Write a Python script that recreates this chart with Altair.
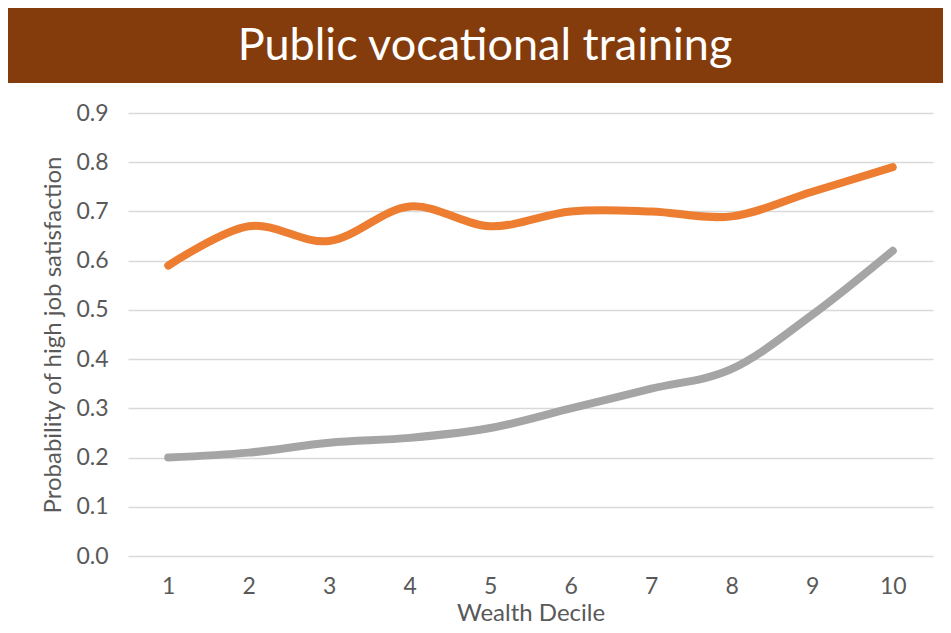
import altair as alt
import pandas as pd

deciles = [1, 2, 3, 4, 5, 6, 7, 8, 9, 10]
orange_values = [0.59, 0.67, 0.64, 0.71, 0.67, 0.70, 0.70, 0.69, 0.74, 0.79]
gray_values = [0.20, 0.21, 0.23, 0.24, 0.26, 0.30, 0.34, 0.38, 0.49, 0.62]
series_names = ["Series A", "Series B"]
y_ticks = [0.0, 0.1, 0.2, 0.3, 0.4, 0.5, 0.6, 0.7, 0.8, 0.9]
title_text = "Public vocational training"
x_title = "Wealth Decile"
y_title = "Probability of high job satisfaction"

rows = []
for d, v in zip(deciles, orange_values):
    rows.append({"decile": d, "value": v, "series": series_names[0]})
for d, v in zip(deciles, gray_values):
    rows.append({"decile": d, "value": v, "series": series_names[1]})
df = pd.DataFrame(rows)

FONT = "Lato"
TXT = "#595959"
W, H = 805, 443

lines = alt.Chart(df).mark_line(
    strokeWidth=8, strokeCap="round", strokeJoin="round", interpolate="cardinal"
).encode(
    x=alt.X("decile:O", scale=alt.Scale(type="point", padding=0.5),
            axis=alt.Axis(title=x_title, labelAngle=0, domain=False, ticks=False,
                          grid=False, labelPadding=19, titlePadding=3)),
    y=alt.Y("value:Q", scale=alt.Scale(domain=[0, 0.9], nice=False, zero=True),
            axis=alt.Axis(title=y_title, values=y_ticks, format=".1f", domain=False,
                          ticks=False, grid=True, labelPadding=20, titlePadding=10)),
    color=alt.Color("series:N", scale=alt.Scale(domain=series_names,
                                                range=["#ED7D31", "#A5A5A5"]),
                    legend=None),
    order=alt.Order("series:N", sort="descending"),
)

banner_df = pd.DataFrame({"t": [title_text]})
banner = alt.Chart(banner_df).mark_rect(color="#843C0C", clip=False).encode(
    x=alt.value(-120), x2=alt.value(815), y=alt.value(-107), y2=alt.value(-30)
)
banner_text = alt.Chart(banner_df).mark_text(
    color="white", font=FONT, fontSize=45, baseline="middle", align="center", clip=False
).encode(
    text="t:N", x=alt.value(357), y=alt.value(-67)
)

chart = alt.layer(banner, banner_text, lines).properties(
    width=W, height=H,
    autosize="none",
    padding={"left": 120, "top": 105, "right": 10, "bottom": 69},
).configure_view(stroke=None).configure_axis(
    labelFont=FONT, titleFont=FONT, labelColor=TXT, titleColor=TXT,
    labelFontSize=23, titleFontSize=24, titleFontWeight="normal",
    gridColor="#D9D9D9", gridWidth=1.3,
)

chart.save("out.html", embed_options={"renderer": "svg", "actions": False})
